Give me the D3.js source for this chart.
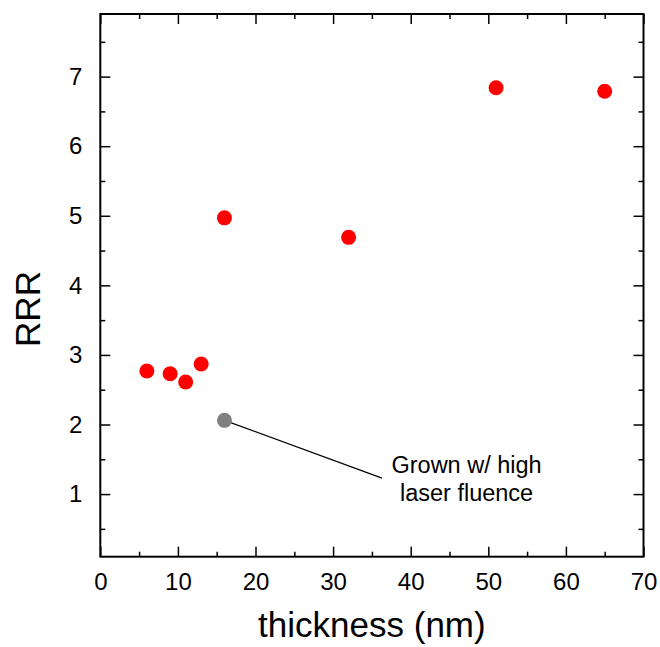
<!DOCTYPE html>
<html>
<head>
<meta charset="utf-8">
<script src="https://cdn.jsdelivr.net/npm/d3@7/dist/d3.min.js"></script>
<style>
  html, body { margin: 0; padding: 0; background: #fff; }
  svg { display: block; font-family: "Liberation Sans", Arial, sans-serif; }
</style>
</head>
<body>
<svg id="chart" width="660" height="647"></svg>
<script>
// Film thickness (nm) and residual resistivity ratio
const thickness = [6, 9, 11, 13, 16, 32, 51, 65];
const rrr       = [2.77, 2.73, 2.61, 2.87, 4.97, 4.69, 6.84, 6.79];

// Sample grown with high laser fluence
const highFluenceThickness = [16];
const highFluenceRRR       = [2.06];

const xTicks = [0, 10, 20, 30, 40, 50, 60, 70];
const yTicks = [1, 2, 3, 4, 5, 6, 7];
const xMinorTicks = [5, 15, 25, 35, 45, 55, 65];
const yMinorTicks = [0.5, 1.5, 2.5, 3.5, 4.5, 5.5, 6.5, 7.5];

const noteLines = ["Grown w/ high", "laser fluence"];

const svg = d3.select("#chart");
const plotLeft = 100.3, plotRight = 643.5, plotTop = 14, plotBottom = 556.7;

const x = d3.scaleLinear().domain([0, 70]).range([plotLeft, plotRight]);
const y = d3.scaleLinear().domain([0.1, 7.9]).range([plotBottom, plotTop]);

const major = 10, minor = 5;

function styleAxis(g) {
  g.select(".domain").remove();
  g.selectAll(".tick line").attr("stroke", "#000").attr("stroke-width", 1.5);
  g.selectAll(".tick text").attr("fill", "#000").style("font-size", "24px")
    .style("font-family", "'Liberation Sans', Arial, sans-serif");
}

// Bottom axis (labelled)
svg.append("g").attr("transform", `translate(0,${plotBottom})`)
  .call(d3.axisBottom(x).tickValues(xTicks).tickSizeInner(-major).tickSizeOuter(0).tickPadding(16).tickFormat(d3.format("d")))
  .call(styleAxis);
svg.append("g").attr("transform", `translate(0,${plotBottom})`)
  .call(d3.axisBottom(x).tickValues(xMinorTicks).tickSizeInner(-minor).tickSizeOuter(0).tickFormat(""))
  .call(styleAxis);

// Top axis (ticks only)
svg.append("g").attr("transform", `translate(0,${plotTop})`)
  .call(d3.axisTop(x).tickValues(xTicks).tickSizeInner(-major).tickSizeOuter(0).tickFormat(""))
  .call(styleAxis);
svg.append("g").attr("transform", `translate(0,${plotTop})`)
  .call(d3.axisTop(x).tickValues(xMinorTicks).tickSizeInner(-minor).tickSizeOuter(0).tickFormat(""))
  .call(styleAxis);

// Left axis (labelled)
svg.append("g").attr("transform", `translate(${plotLeft},0)`)
  .call(d3.axisLeft(y).tickValues(yTicks).tickSizeInner(-major).tickSizeOuter(0).tickPadding(18).tickFormat(d3.format("d")))
  .call(styleAxis);
svg.append("g").attr("transform", `translate(${plotLeft},0)`)
  .call(d3.axisLeft(y).tickValues(yMinorTicks).tickSizeInner(-minor).tickSizeOuter(0).tickFormat(""))
  .call(styleAxis);

// Right axis (ticks only)
svg.append("g").attr("transform", `translate(${plotRight},0)`)
  .call(d3.axisRight(y).tickValues(yTicks).tickSizeInner(-major).tickSizeOuter(0).tickFormat(""))
  .call(styleAxis);
svg.append("g").attr("transform", `translate(${plotRight},0)`)
  .call(d3.axisRight(y).tickValues(yMinorTicks).tickSizeInner(-minor).tickSizeOuter(0).tickFormat(""))
  .call(styleAxis);

// Plot frame
svg.append("rect")
  .attr("x", plotLeft).attr("y", plotTop)
  .attr("width", plotRight - plotLeft).attr("height", plotBottom - plotTop)
  .attr("fill", "none").attr("stroke", "#000").attr("stroke-width", 2);

// Annotation leader line from the high-fluence sample to the note
const noteAnchor = { x: 36.3, y: 1.23 };
svg.append("line")
  .attr("x1", x(highFluenceThickness[0])).attr("y1", y(highFluenceRRR[0]))
  .attr("x2", x(noteAnchor.x)).attr("y2", y(noteAnchor.y))
  .attr("stroke", "#000").attr("stroke-width", 1.2);

// Data points
svg.append("g").selectAll("circle")
  .data(thickness.map((t, i) => [t, rrr[i]]))
  .join("circle")
  .attr("cx", d => x(d[0])).attr("cy", d => y(d[1]))
  .attr("r", 7.5).attr("fill", "#ff0000");

svg.append("g").selectAll("circle")
  .data(highFluenceThickness.map((t, i) => [t, highFluenceRRR[i]]))
  .join("circle")
  .attr("cx", d => x(d[0])).attr("cy", d => y(d[1]))
  .attr("r", 7.5).attr("fill", "#808080");

// Note text
const notePos = { x: 47.2, y: 1.30 };
const note = svg.append("text")
  .attr("x", x(notePos.x)).attr("y", y(notePos.y))
  .attr("text-anchor", "middle")
  .style("font-size", "23.5px").attr("fill", "#000");
noteLines.forEach((line, i) => {
  note.append("tspan").attr("x", x(notePos.x)).attr("dy", i === 0 ? 0 : 27.5).text(line);
});

// Axis titles
svg.append("text")
  .attr("x", (plotLeft + plotRight) / 2).attr("y", 637)
  .attr("text-anchor", "middle")
  .style("font-size", "35px").attr("fill", "#000")
  .text("thickness (nm)");

svg.append("text")
  .attr("transform", `translate(40,309) rotate(-90)`)
  .attr("text-anchor", "middle")
  .style("font-size", "35px").attr("fill", "#000")
  .text("RRR");
</script>
</body>
</html>
